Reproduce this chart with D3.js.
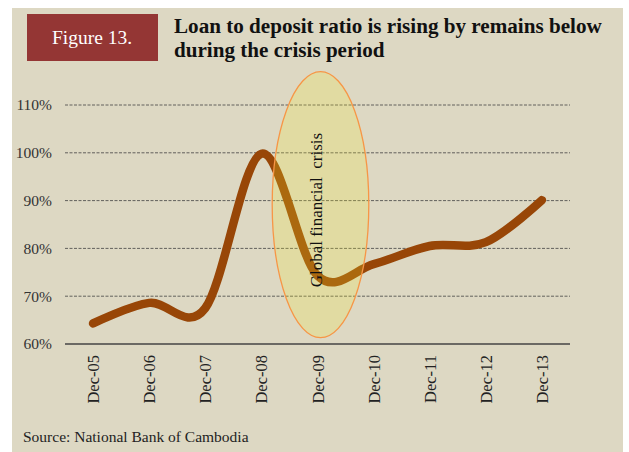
<!DOCTYPE html>
<html>
<head>
<meta charset="utf-8">
<script src="https://cdn.jsdelivr.net/npm/d3@7/dist/d3.min.js"></script>
<style>
  html, body { margin: 0; padding: 0; background: #ffffff; }
  svg { display: block; }
  text { font-family: "Liberation Serif", "DejaVu Serif", serif; }
</style>
</head>
<body>
<svg id="chart" width="629" height="452"></svg>
<script>
// ---- data ----
const categories = ["Dec-05", "Dec-06", "Dec-07", "Dec-08", "Dec-09", "Dec-10", "Dec-11", "Dec-12", "Dec-13"];
const ratioValues = [0.643, 0.686, 0.675, 0.998, 0.743, 0.767, 0.805, 0.813, 0.901];
const yTicks = [0.6, 0.7, 0.8, 0.9, 1.0, 1.1];
const figureLabel = "Figure 13.";
const titleLines = ["Loan to deposit ratio is rising by remains below", "during the crisis period"];
const crisisLabel = "Global financial  crisis";
const crisisCategory = "Dec-09";
const sourceText = "Source: National Bank of Cambodia";

// ---- layout ----
const svg = d3.select("#chart");

svg.append("rect").attr("x", 12).attr("y", 8).attr("width", 611).attr("height", 444).attr("fill", "#DDD8C3");

svg.append("rect").attr("x", 27).attr("y", 14).attr("width", 131).attr("height", 47).attr("fill", "#943634");
svg.append("text").attr("x", 92).attr("y", 44).attr("text-anchor", "middle")
  .attr("fill", "#ffffff").attr("font-size", 19.5).text(figureLabel);

const title = svg.append("text").attr("fill", "#111").attr("font-weight", "bold").attr("font-size", 18);
titleLines.forEach((t, i) => {
  title.append("tspan").attr("x", 174).attr("y", 33 + i * 24).text(t);
});
const t0 = title.select("tspan").node();
const len0 = t0.getComputedTextLength();
if (len0 > 0) title.attr("font-size", 18 * 428 / len0);

const x = d3.scalePoint().domain(categories).range([65, 570]).padding(0.5);
const y = d3.scaleLinear().domain([0.6, 1.1]).range([344, 105]);

// gridlines
svg.append("g").selectAll("line").data(yTicks.filter(d => d > 0.6)).join("line")
  .attr("x1", 65).attr("x2", 570)
  .attr("y1", d => y(d)).attr("y2", d => y(d))
  .attr("stroke", "#444").attr("stroke-width", 1).attr("stroke-dasharray", "3,1.5").attr("opacity", 0.8);

// y axis labels
const yAxis = d3.axisLeft(y).tickValues(yTicks).tickFormat(d3.format(".0%")).tickSize(0).tickPadding(13);
const gy = svg.append("g").attr("transform", "translate(65,0)").call(yAxis);
gy.select(".domain").remove();
gy.selectAll("text").attr("font-family", "Liberation Serif").attr("font-size", 15.5).attr("fill", "#333");

// x axis
const xAxis = d3.axisBottom(x).tickSize(0).tickPadding(0);
const gx = svg.append("g").attr("transform", "translate(0,344)").call(xAxis);
gx.select(".domain").attr("d", "M65,0H570").attr("stroke", "#444").attr("stroke-width", 1.6);
gx.selectAll("text")
  .attr("font-family", "Liberation Serif").attr("font-size", 16.5).attr("fill", "#222")
  .attr("text-anchor", "end").attr("dy", null)
  .attr("transform", "translate(5.5,11) rotate(-90)").attr("x", 0).attr("y", 0);

// line
const line = d3.line().x((d, i) => x(categories[i])).y(d => y(d)).curve(d3.curveCardinal.tension(0));
svg.append("path").datum(ratioValues).attr("d", line)
  .attr("fill", "none").attr("stroke", "#984607").attr("stroke-width", 8.5)
  .attr("stroke-linecap", "round").attr("stroke-linejoin", "round");

// crisis ellipse
const ex = x(crisisCategory) + 3;
svg.append("ellipse").attr("cx", ex).attr("cy", 204.7).attr("rx", 48.3).attr("ry", 133)
  .attr("fill", "#F2EA2E").attr("fill-opacity", 0.22)
  .attr("stroke", "#F79646").attr("stroke-width", 1.3);
svg.append("text").attr("transform", `translate(${ex + 1},210) rotate(-90)`)
  .attr("text-anchor", "middle").attr("font-size", 17).attr("fill", "#111")
  .style("white-space", "pre").attr("xml:space", "preserve").text(crisisLabel);

// source
svg.append("text").attr("x", 23).attr("y", 442).attr("font-size", 15.5).attr("fill", "#222").text(sourceText);
</script>
</body>
</html>
